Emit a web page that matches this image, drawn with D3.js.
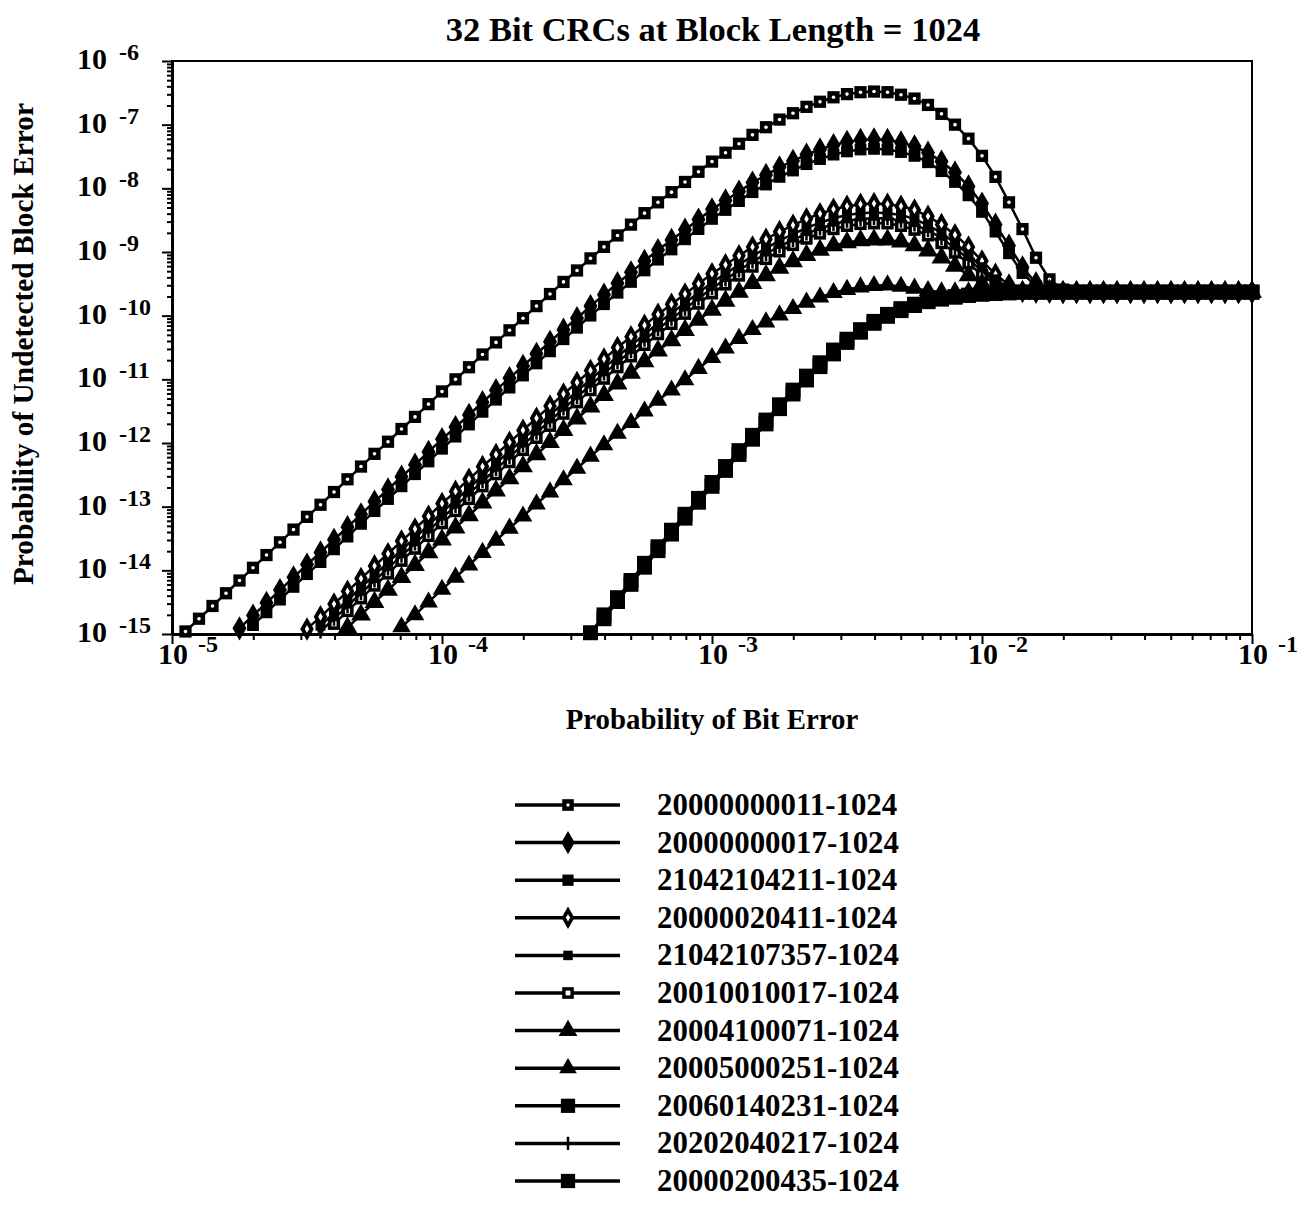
<!DOCTYPE html>
<html>
<head>
<meta charset="UTF-8">
<title>32 Bit CRCs at Block Length = 1024</title>
<script src="https://d3js.org/d3.v7.min.js"></script>
<style>
  body { margin: 0; background: #fff; }
  svg text { font-family: "Liberation Serif", "Times New Roman", serif; fill: #000; }
</style>
</head>
<body>
<script>
// exponent of the bit error probability for every plotted point (10^e)
const bitErrExp = [
  -5.00,-4.95,-4.90,-4.85,-4.80,-4.75,-4.70,-4.65,-4.60,-4.55,
  -4.50,-4.45,-4.40,-4.35,-4.30,-4.25,-4.20,-4.15,-4.10,-4.05,
  -4.00,-3.95,-3.90,-3.85,-3.80,-3.75,-3.70,-3.65,-3.60,-3.55,
  -3.50,-3.45,-3.40,-3.35,-3.30,-3.25,-3.20,-3.15,-3.10,-3.05,
  -3.00,-2.95,-2.90,-2.85,-2.80,-2.75,-2.70,-2.65,-2.60,-2.55,
  -2.50,-2.45,-2.40,-2.35,-2.30,-2.25,-2.20,-2.15,-2.10,-2.05,
  -2.00,-1.95,-1.90,-1.85,-1.80,-1.75,-1.70,-1.65,-1.60,-1.55,
  -1.50,-1.45,-1.40,-1.35,-1.30,-1.25,-1.20,-1.15,-1.10,-1.05,
  -1.00];

// log10 of the undetected block error probability, null = below the 1e-15 floor of the plot
const crc20000000011 = [
  null,-14.96,-14.76,-14.56,-14.36,-14.16,-13.96,-13.76,-13.56,-13.36,
  -13.16,-12.97,-12.77,-12.57,-12.37,-12.17,-11.98,-11.78,-11.59,-11.39,
  -11.19,-11.00,-10.81,-10.61,-10.42,-10.23,-10.04,-9.85,-9.66,-9.47,
  -9.29,-9.10,-8.92,-8.74,-8.57,-8.39,-8.22,-8.06,-7.90,-7.74,
  -7.58,-7.44,-7.30,-7.16,-7.04,-6.92,-6.82,-6.72,-6.64,-6.57,
  -6.52,-6.49,-6.48,-6.49,-6.53,-6.59,-6.69,-6.83,-7.00,-7.22,
  -7.49,-7.82,-8.22,-8.64,-9.09,-9.43,-9.59,-9.63,-9.63,-9.63,
  -9.63,-9.63,-9.63,-9.63,-9.63,-9.63,-9.63,-9.63,-9.63,-9.63,
  -9.63];
const crc20000000017 = [
  null,null,null,null,null,-14.91,-14.71,-14.51,-14.31,-14.11,
  -13.91,-13.72,-13.52,-13.32,-13.12,-12.92,-12.73,-12.53,-12.34,-12.14,
  -11.94,-11.75,-11.56,-11.36,-11.17,-10.98,-10.79,-10.60,-10.41,-10.22,
  -10.04,-9.85,-9.67,-9.49,-9.32,-9.14,-8.97,-8.81,-8.65,-8.49,
  -8.33,-8.19,-8.05,-7.91,-7.79,-7.67,-7.57,-7.47,-7.39,-7.32,
  -7.27,-7.24,-7.23,-7.24,-7.28,-7.34,-7.44,-7.58,-7.75,-7.97,
  -8.24,-8.57,-8.90,-9.24,-9.49,-9.61,-9.63,-9.63,-9.63,-9.63,
  -9.63,-9.63,-9.63,-9.63,-9.63,-9.63,-9.63,-9.63,-9.63,-9.63,
  -9.63];
const crc21042104211 = [
  null,null,null,null,null,null,-14.86,-14.66,-14.46,-14.26,
  -14.06,-13.87,-13.67,-13.47,-13.27,-13.07,-12.88,-12.68,-12.49,-12.29,
  -12.09,-11.90,-11.71,-11.51,-11.32,-11.13,-10.94,-10.75,-10.56,-10.37,
  -10.19,-10.00,-9.82,-9.64,-9.47,-9.29,-9.12,-8.96,-8.80,-8.64,
  -8.48,-8.34,-8.20,-8.06,-7.94,-7.82,-7.72,-7.62,-7.54,-7.47,
  -7.42,-7.39,-7.38,-7.39,-7.43,-7.49,-7.59,-7.73,-7.90,-8.11,
  -8.37,-8.68,-9.02,-9.33,-9.54,-9.62,-9.63,-9.63,-9.63,-9.63,
  -9.63,-9.63,-9.63,-9.63,-9.63,-9.63,-9.63,-9.63,-9.63,-9.63,
  -9.63];
const crc20000020411 = [
  null,null,null,null,null,null,null,null,null,null,
  -14.92,-14.73,-14.53,-14.33,-14.13,-13.93,-13.74,-13.54,-13.35,-13.15,
  -12.95,-12.76,-12.57,-12.37,-12.18,-11.99,-11.80,-11.61,-11.42,-11.23,
  -11.05,-10.86,-10.68,-10.50,-10.33,-10.15,-9.98,-9.82,-9.66,-9.50,
  -9.34,-9.20,-9.06,-8.92,-8.80,-8.68,-8.58,-8.48,-8.40,-8.33,
  -8.28,-8.25,-8.24,-8.25,-8.28,-8.34,-8.44,-8.57,-8.73,-8.92,
  -9.14,-9.35,-9.52,-9.62,-9.63,-9.63,-9.63,-9.63,-9.63,-9.63,
  -9.63,-9.63,-9.63,-9.63,-9.63,-9.63,-9.63,-9.63,-9.63,-9.63,
  -9.63];
const crc21042107357 = [
  null,null,null,null,null,null,null,null,null,null,
  null,-14.87,-14.67,-14.47,-14.27,-14.07,-13.88,-13.68,-13.49,-13.29,
  -13.09,-12.90,-12.71,-12.51,-12.32,-12.13,-11.94,-11.75,-11.56,-11.37,
  -11.19,-11.00,-10.82,-10.64,-10.47,-10.29,-10.12,-9.96,-9.80,-9.64,
  -9.48,-9.34,-9.20,-9.06,-8.94,-8.82,-8.72,-8.62,-8.54,-8.47,
  -8.42,-8.39,-8.38,-8.39,-8.42,-8.48,-8.58,-8.70,-8.86,-9.04,
  -9.24,-9.43,-9.57,-9.63,-9.63,-9.63,-9.63,-9.63,-9.63,-9.63,
  -9.63,-9.63,-9.63,-9.63,-9.63,-9.63,-9.63,-9.63,-9.63,-9.63,
  -9.63];
const crc20010010017 = [
  null,null,null,null,null,null,null,null,null,null,
  null,null,-14.84,-14.64,-14.44,-14.24,-14.05,-13.85,-13.66,-13.46,
  -13.26,-13.07,-12.88,-12.68,-12.49,-12.30,-12.11,-11.92,-11.73,-11.54,
  -11.36,-11.17,-10.99,-10.81,-10.64,-10.46,-10.29,-10.13,-9.97,-9.81,
  -9.65,-9.51,-9.37,-9.23,-9.11,-8.99,-8.89,-8.79,-8.71,-8.64,
  -8.59,-8.56,-8.55,-8.55,-8.59,-8.65,-8.74,-8.86,-9.01,-9.18,
  -9.36,-9.51,-9.61,-9.63,-9.63,-9.63,-9.63,-9.63,-9.63,-9.63,
  -9.63,-9.63,-9.63,-9.63,-9.63,-9.63,-9.63,-9.63,-9.63,-9.63,
  -9.63];
const crc20004100071 = [
  null,null,null,null,null,null,null,null,null,null,
  null,null,null,-14.90,-14.70,-14.50,-14.31,-14.11,-13.92,-13.72,
  -13.52,-13.33,-13.14,-12.94,-12.75,-12.56,-12.37,-12.18,-11.99,-11.80,
  -11.62,-11.43,-11.25,-11.07,-10.90,-10.72,-10.55,-10.39,-10.23,-10.07,
  -9.91,-9.77,-9.63,-9.49,-9.37,-9.25,-9.15,-9.05,-8.97,-8.90,
  -8.85,-8.82,-8.81,-8.81,-8.84,-8.90,-8.98,-9.09,-9.22,-9.37,
  -9.50,-9.60,-9.63,-9.63,-9.63,-9.63,-9.63,-9.63,-9.63,-9.63,
  -9.63,-9.63,-9.63,-9.63,-9.63,-9.63,-9.63,-9.63,-9.63,-9.63,
  -9.63];
const crc20005000251 = [
  null,null,null,null,null,null,null,null,null,null,
  null,null,null,null,null,null,null,-14.89,-14.70,-14.50,
  -14.30,-14.11,-13.92,-13.72,-13.53,-13.34,-13.15,-12.96,-12.77,-12.58,
  -12.40,-12.21,-12.03,-11.85,-11.68,-11.50,-11.33,-11.17,-11.01,-10.83,
  -10.66,-10.51,-10.36,-10.22,-10.10,-9.99,-9.89,-9.79,-9.71,-9.64,
  -9.59,-9.55,-9.53,-9.52,-9.54,-9.57,-9.61,-9.63,-9.63,-9.63,
  -9.63,-9.63,-9.63,-9.63,-9.63,-9.63,-9.63,-9.63,-9.63,-9.63,
  -9.63,-9.63,-9.63,-9.63,-9.63,-9.63,-9.63,-9.63,-9.63,-9.63,
  -9.63];
const crc20060140231 = [
  null,null,null,null,null,null,null,null,null,null,
  null,null,null,null,null,null,null,null,null,null,
  null,null,null,null,null,null,null,null,null,null,
  null,-14.98,-14.70,-14.43,-14.16,-13.89,-13.63,-13.37,-13.12,-12.87,
  -12.62,-12.37,-12.12,-11.88,-11.64,-11.40,-11.17,-10.95,-10.74,-10.54,
  -10.37,-10.22,-10.09,-9.98,-9.89,-9.82,-9.77,-9.73,-9.70,-9.68,
  -9.66,-9.65,-9.64,-9.63,-9.63,-9.63,-9.63,-9.63,-9.63,-9.63,
  -9.63,-9.63,-9.63,-9.63,-9.63,-9.63,-9.63,-9.63,-9.63,-9.63,
  -9.63];
const crc20202040217 = [
  null,null,null,null,null,null,null,null,null,null,
  null,-14.96,-14.76,-14.56,-14.36,-14.16,-13.97,-13.77,-13.58,-13.38,
  -13.18,-12.99,-12.80,-12.60,-12.41,-12.22,-12.03,-11.84,-11.65,-11.46,
  -11.28,-11.09,-10.91,-10.73,-10.56,-10.38,-10.21,-10.05,-9.89,-9.73,
  -9.57,-9.43,-9.29,-9.15,-9.03,-8.91,-8.81,-8.71,-8.63,-8.56,
  -8.51,-8.48,-8.47,-8.47,-8.51,-8.57,-8.66,-8.78,-8.94,-9.11,
  -9.30,-9.47,-9.59,-9.63,-9.63,-9.63,-9.63,-9.63,-9.63,-9.63,
  -9.63,-9.63,-9.63,-9.63,-9.63,-9.63,-9.63,-9.63,-9.63,-9.63,
  -9.63];
const crc20000200435 = [
  null,null,null,null,null,null,null,null,null,null,
  null,null,null,null,null,null,null,null,null,null,
  null,null,null,null,null,null,null,null,null,null,
  null,null,-14.76,-14.49,-14.22,-13.95,-13.69,-13.43,-13.18,-12.93,
  -12.68,-12.43,-12.18,-11.94,-11.70,-11.46,-11.23,-11.01,-10.80,-10.60,
  -10.42,-10.26,-10.12,-10.01,-9.92,-9.84,-9.78,-9.74,-9.71,-9.68,
  -9.66,-9.65,-9.64,-9.63,-9.63,-9.63,-9.63,-9.63,-9.63,-9.63,
  -9.63,-9.63,-9.63,-9.63,-9.63,-9.63,-9.63,-9.63,-9.63,-9.63,
  -9.63];

const seriesNames = [
  "20000000011-1024", "20000000017-1024", "21042104211-1024", "20000020411-1024",
  "21042107357-1024", "20010010017-1024", "20004100071-1024", "20005000251-1024",
  "20060140231-1024", "20202040217-1024", "20000200435-1024"];
const seriesValues = [
  crc20000000011, crc20000000017, crc21042104211, crc20000020411,
  crc21042107357, crc20010010017, crc20004100071, crc20005000251,
  crc20060140231, crc20202040217, crc20000200435];
const seriesMarks = [
  "sqdot", "diamond", "square", "odiamond", "smallsq", "osquare",
  "triangle", "triangle2", "bigsq", "plus", "bigsq"];

const xTickExp = [-5, -4, -3, -2, -1];
const yTickExp = [-6, -7, -8, -9, -10, -11, -12, -13, -14, -15];

const W = 1307, H = 1206;
const plot = { left: 172, right: 1252, top: 61, bottom: 634 };

const svg = d3.select("body").append("svg").attr("width", W).attr("height", H);

const x = d3.scaleLog().domain([1e-5, 1e-1]).range([plot.left, plot.right]);
const y = d3.scaleLog().domain([1e-15, 1e-6]).range([plot.bottom, plot.top]);

// title and axis titles
svg.append("text").attr("x", 713).attr("y", 41).attr("text-anchor", "middle")
  .style("font-size", "34.5px").style("font-weight", "bold")
  .text("32 Bit CRCs at Block Length = 1024");
svg.append("text").attr("x", 712).attr("y", 729).attr("text-anchor", "middle")
  .style("font-size", "28.8px").style("font-weight", "bold")
  .text("Probability of Bit Error");
svg.append("text").attr("transform", "translate(33,344) rotate(-90)").attr("text-anchor", "middle")
  .style("font-size", "29.4px").style("font-weight", "bold")
  .text("Probability of Undetected Block Error");

// frame
svg.append("rect")
  .attr("x", plot.left).attr("y", plot.top)
  .attr("width", plot.right - plot.left).attr("height", plot.bottom - plot.top)
  .attr("fill", "none").attr("stroke", "#000").attr("stroke-width", 2);

const isDecade = v => Math.abs(Math.log10(v) - Math.round(Math.log10(v))) < 1e-6;
const minorX = x.ticks().filter(v => !isDecade(v));
const minorY = y.ticks().filter(v => !isDecade(v));
const majorX = xTickExp.map(e => Math.pow(10, e));
const majorY = yTickExp.map(e => Math.pow(10, e));

function styleAxis(g, w) {
  g.select(".domain").attr("stroke-width", w);
  g.selectAll(".tick line").attr("stroke-width", 2);
  g.selectAll(".tick text").remove();
}
svg.append("g").attr("transform", `translate(0,${plot.bottom})`)
  .call(d3.axisBottom(x).tickValues(minorX).tickSize(6).tickSizeOuter(0).tickFormat(""))
  .call(g => styleAxis(g, 3));
svg.append("g").attr("transform", `translate(0,${plot.bottom})`)
  .call(d3.axisBottom(x).tickValues(majorX).tickSize(10).tickSizeOuter(0).tickFormat(""))
  .call(g => styleAxis(g, 3));
svg.append("g").attr("transform", `translate(${plot.left},0)`)
  .call(d3.axisLeft(y).tickValues(minorY).tickSize(5).tickSizeOuter(0).tickFormat(""))
  .call(g => styleAxis(g, 3));
svg.append("g").attr("transform", `translate(${plot.left},0)`)
  .call(d3.axisLeft(y).tickValues(majorY).tickSize(10).tickSizeOuter(0).tickFormat(""))
  .call(g => styleAxis(g, 3));

// tick labels: 10 with a raised exponent
yTickExp.forEach(e => {
  const t = svg.append("text").attr("x", 77).attr("y", y(Math.pow(10, e)) + 8)
    .style("font-weight", "bold");
  t.append("tspan").style("font-size", "30px").text("10");
  t.append("tspan").attr("dx", 12).attr("dy", -9).style("font-size", "24px").text(String(e));
});
xTickExp.forEach(e => {
  const t = svg.append("text").attr("x", x(Math.pow(10, e)) - 14).attr("y", plot.bottom + 30)
    .style("font-weight", "bold");
  t.append("tspan").style("font-size", "30px").text("10");
  t.append("tspan").attr("dx", 10).attr("dy", -12).style("font-size", "24px").text(String(e));
});

// markers
function drawMark(g, kind, k) {
  const sym = (type, size) => d3.symbol().type(type).size(size * k * k)();
  if (kind === "sqdot") {
    g.append("path").attr("d", sym(d3.symbolSquare, 150));
    g.append("circle").attr("r", 1.8 * k).attr("fill", "#fff");
  } else if (kind === "diamond") {
    g.append("path").attr("d", sym(d3.symbolDiamond, 170));
  } else if (kind === "square") {
    g.append("path").attr("d", sym(d3.symbolSquare, 140));
  } else if (kind === "odiamond") {
    g.append("path").attr("d", sym(d3.symbolDiamond, 160));
    g.append("path").attr("d", sym(d3.symbolDiamond, 18)).attr("fill", "#fff");
  } else if (kind === "smallsq") {
    g.append("path").attr("d", sym(d3.symbolSquare, 100));
  } else if (kind === "osquare") {
    g.append("path").attr("d", sym(d3.symbolSquare, 150));
    g.append("path").attr("d", sym(d3.symbolSquare, 26)).attr("fill", "#fff");
  } else if (kind === "triangle") {
    g.append("path").attr("d", sym(d3.symbolTriangle, 170));
  } else if (kind === "triangle2") {
    g.append("path").attr("d", sym(d3.symbolTriangle, 150));
  } else if (kind === "bigsq") {
    g.append("path").attr("d", sym(d3.symbolSquare, 225));
  } else if (kind === "plus") {
    g.append("path").attr("d", `M0,${-7 * k}V${7 * k}M${-3 * k},0H${3 * k}`)
      .attr("stroke", "#000").attr("stroke-width", 2.5).attr("fill", "none");
  }
}

const line = d3.line()
  .defined(d => d.v !== null)
  .x(d => x(Math.pow(10, d.e)))
  .y(d => y(Math.pow(10, d.v)));

const plotG = svg.append("g");
seriesValues.forEach((vals, s) => {
  const pts = bitErrExp.map((e, i) => ({ e, v: vals[i] }));
  const g = plotG.append("g");
  g.append("path").datum(pts).attr("d", line)
    .attr("fill", "none").attr("stroke", "#000").attr("stroke-width", 2.5);
  g.selectAll("g.m").data(pts.filter(d => d.v !== null)).join("g")
    .attr("class", "m")
    .attr("transform", d => `translate(${x(Math.pow(10, d.e))},${y(Math.pow(10, d.v))})`)
    .attr("fill", "#000")
    .each(function () { drawMark(d3.select(this), seriesMarks[s], 1); });
});

// legend
const legend = svg.append("g");
seriesNames.forEach((name, s) => {
  const cy = 805 + s * 37.6;
  legend.append("line").attr("x1", 515).attr("x2", 620).attr("y1", cy).attr("y2", cy)
    .attr("stroke", "#000").attr("stroke-width", 3.5);
  const m = legend.append("g").attr("transform", `translate(568,${cy})`).attr("fill", "#000");
  drawMark(m, seriesMarks[s], 0.95);
  legend.append("text").attr("x", 657).attr("y", cy + 10)
    .style("font-size", "30.9px").style("font-weight", "bold").text(name);
});
</script>
</body>
</html>
